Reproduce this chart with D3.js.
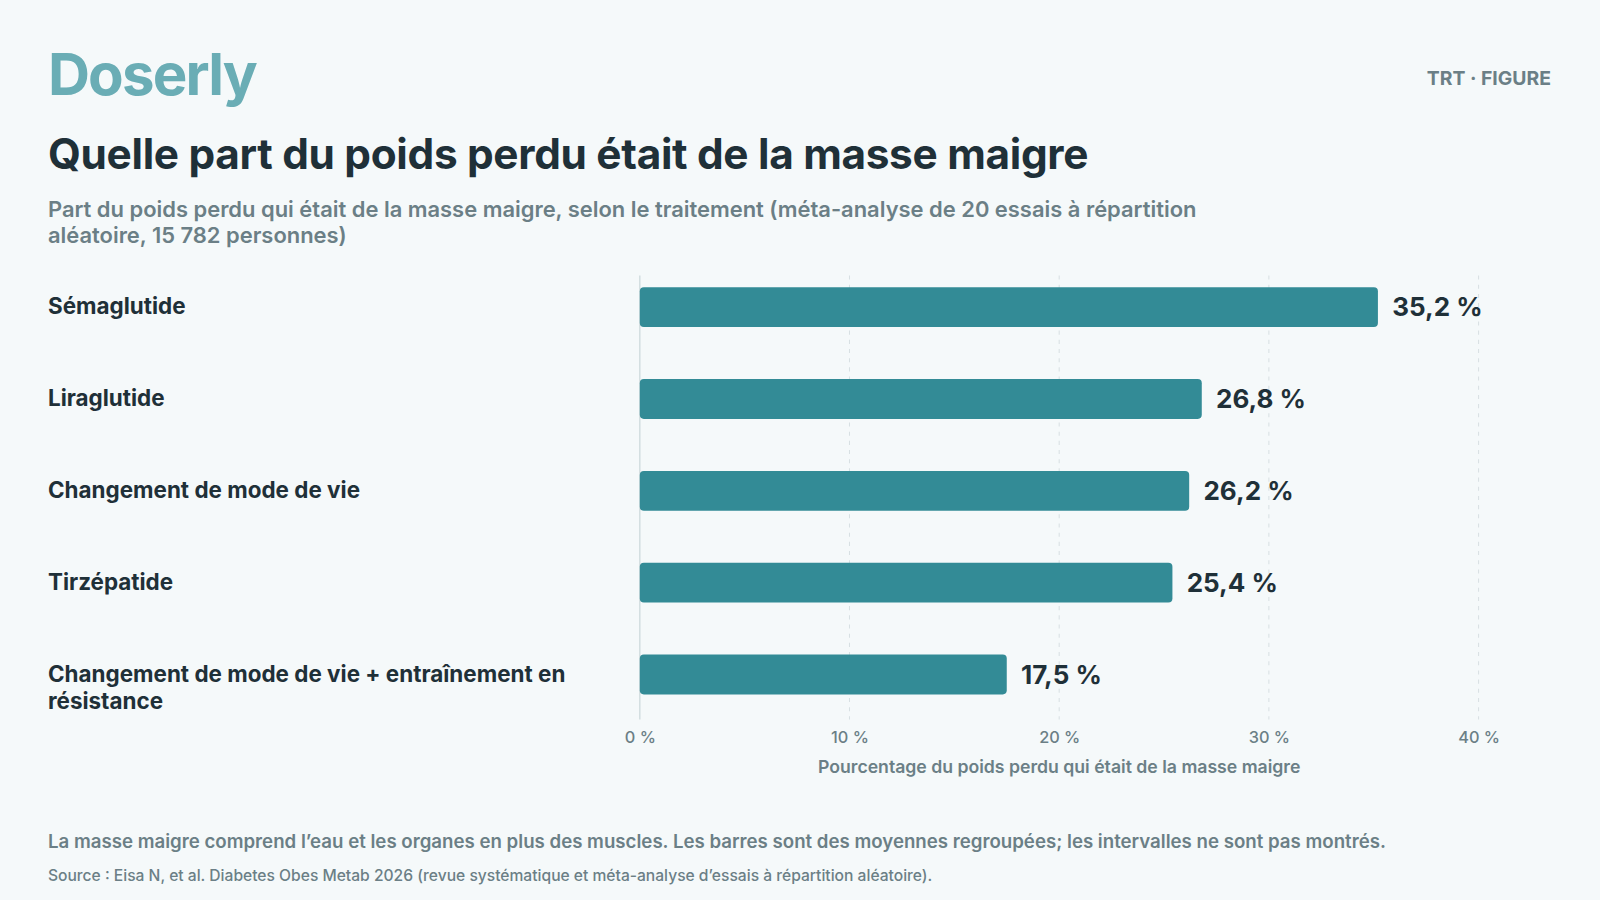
<!DOCTYPE html>
<html><head><meta charset="utf-8">
<script src="https://cdn.jsdelivr.net/npm/d3@7"></script>
<style>html,body{margin:0;padding:0;background:#f5f9fa;}svg{display:block;font-family:Inter,"Noto Sans",sans-serif;}</style>
</head><body>
<svg id="c" width="1600" height="900" viewBox="0 0 1568 882"></svg>
<script>
const categories = [["Sémaglutide"],["Liraglutide"],["Changement de mode de vie"],["Tirzépatide"],["Changement de mode de vie + entraînement en","résistance"]];
const values = [35.2, 26.8, 26.2, 25.4, 17.5];
const ticks = [0, 10, 20, 30, 40];

const svg = d3.select("#c");
svg.append("rect").attr("width",1568).attr("height",882).attr("fill","#f5f9fa");
const dark="#1f3038", grey="#6b7f86", teal="#338b96";
svg.append("text").attr("x",47).attr("y",93).attr("font-size",57).attr("font-weight",700).attr("fill","#6aadb5").attr("letter-spacing",-1.8).text("Doserly");
svg.append("text").attr("x",1520).attr("y",83).attr("text-anchor","end").attr("font-size",19).attr("font-weight",700).attr("fill","#6b7f86").text("TRT · FIGURE");
svg.append("text").attr("x",47).attr("y",166).attr("font-size",41.5).attr("font-weight",700).attr("fill",dark).attr("letter-spacing",-0.3).text("Quelle part du poids perdu était de la masse maigre");
svg.append("text").attr("x",47).attr("y",213).attr("font-size",21.5).attr("font-weight",600).attr("fill",grey).text("Part du poids perdu qui était de la masse maigre, selon le traitement (méta-analyse de 20 essais à répartition");
svg.append("text").attr("x",47).attr("y",238).attr("font-size",21.5).attr("font-weight",600).attr("fill",grey).text("aléatoire, 15 782 personnes)");

const x = d3.scaleLinear().domain([0,40]).range([627,1449]);
const y = d3.scaleBand().domain(d3.range(values.length)).range([256,706]).paddingInner(0.566).paddingOuter(0.283);

svg.selectAll(".grid").data(ticks.slice(1)).join("line").attr("x1",d=>x(d)).attr("x2",d=>x(d)).attr("y1",270).attr("y2",705)
 .attr("stroke","#d8e0e3").attr("stroke-dasharray","4,5");
svg.append("line").attr("x1",x(0)).attr("x2",x(0)).attr("y1",270).attr("y2",705).attr("stroke","#d3dfe1").attr("stroke-width",1.5);

const ax = svg.append("g").attr("transform","translate(0,705)").call(d3.axisBottom(x).tickValues(ticks).tickSize(0).tickPadding(12).tickFormat(d=>d+" %"));
ax.select(".domain").remove();
ax.selectAll("text").attr("font-size",16).attr("font-weight",500).attr("fill",grey).attr("font-family","Inter");
svg.append("text").attr("x",1038).attr("y",758).attr("text-anchor","middle").attr("font-size",17.3).attr("font-weight",600).attr("fill",grey).text("Pourcentage du poids perdu qui était de la masse maigre");

svg.selectAll(".bar").data(values).join("rect").attr("x",x(0)).attr("y",(d,i)=>y(i)).attr("width",d=>x(d)-x(0)).attr("height",y.bandwidth()).attr("rx",4).attr("fill",teal);
svg.selectAll(".val").data(values).join("text").attr("x",d=>x(d)+14).attr("y",(d,i)=>y(i)+y.bandwidth()/2+9).attr("font-size",25.5).attr("font-weight",700).attr("fill",dark)
 .text(d=>d.toFixed(1).replace(".",",")+" %");
categories.forEach((lines,i)=>{
  const t = svg.append("text").attr("x",47).attr("y",y(i)+y.bandwidth()/2+7).attr("font-size",22).attr("font-weight",700).attr("fill",dark);
  lines.forEach((l,j)=>t.append("tspan").attr("x",47).attr("dy",j?27:0).text(l));
});
svg.append("text").attr("x",47).attr("y",831).attr("font-size",18.3).attr("font-weight",600).attr("fill",grey).text("La masse maigre comprend l’eau et les organes en plus des muscles. Les barres sont des moyennes regroupées; les intervalles ne sont pas montrés.");
svg.append("text").attr("x",47).attr("y",863).attr("font-size",15.3).attr("font-weight",500).attr("fill",grey).text("Source : Eisa N, et al. Diabetes Obes Metab 2026 (revue systématique et méta-analyse d’essais à répartition aléatoire).");
</script></body></html>
